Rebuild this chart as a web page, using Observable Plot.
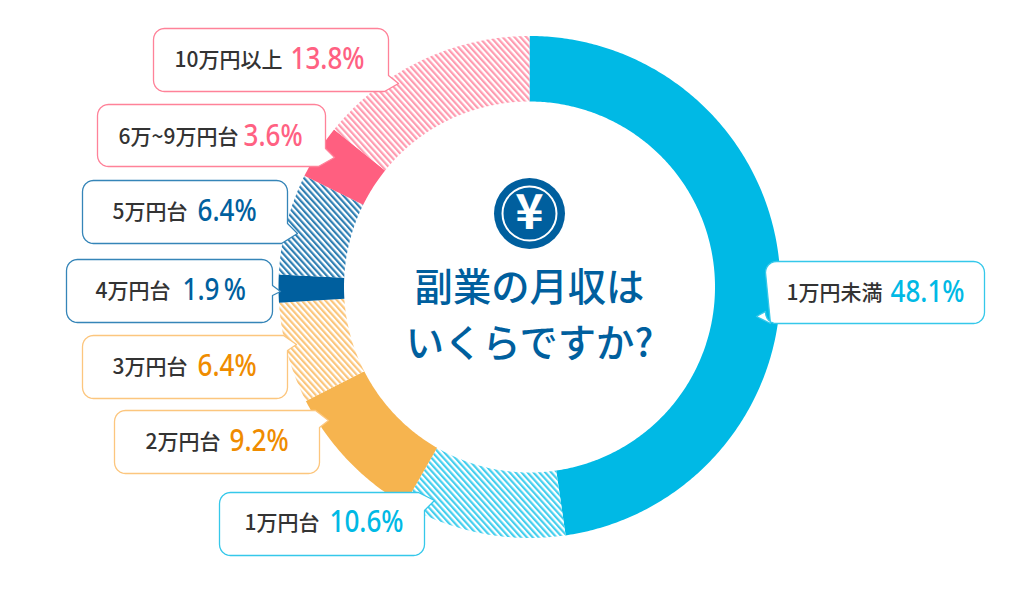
<!DOCTYPE html>
<html lang="ja">
<head>
<meta charset="utf-8">
<style>html,body{margin:0;padding:0;background:#fff}svg{display:block}</style>
<script src="https://cdn.jsdelivr.net/npm/d3@7"></script>
<script src="https://cdn.jsdelivr.net/npm/@observablehq/plot@0.6"></script>
</head>
<body>
<div id="chart"></div>
<script>
// Data (clockwise from 12 o'clock)
const categories = ["1万円未満","1万円台","2万円台","3万円台","4万円台","5万円台","6万~9万円台","10万円以上"];
const valueLabels = ["48.1%","10.6%","9.2%","6.4%","1.9\u2009%","6.4%","3.6%","13.8%"];
// Slice sizes as drawn in the picture (percent of the ring)
const drawnShares = [47.7,10.6,9.2,6.5,1.8,6.5,3.5,14.2];
const titleLines = ["副業の月収は","いくらですか?"];

// Styling
const sliceFills = ["#00b9e5","url(#hCyan)","#f6b44f","url(#hOrange)","#005f9e","url(#hBlue)","#ff5f80","url(#hPink)"];
const hatchDefs = [["hCyan","#45cfee"],["hOrange","#fbc67c"],["hBlue","#2f7fb3"],["hPink","#ff9bb0"]];
const borderColors = ["#35c8ea","#35c8ea","#fcc67e","#fcc67e","#3585b8","#3585b8","#ff8299","#ff8299"];
const valueColors = ["#00b9e5","#00b9e5","#ef8c00","#ef8c00","#00609e","#00609e","#ff6182","#ff6182"];

// Layout in chart units
const cx = 529, cy = 286.5, rOuter = 251, rInner = 185.5;
const boxes = [[765,261,984,323],[219,492,424,555],[114,410,319,473],[82,335,287,398],[66,259,272,322],[82,180,287,243],[97,104,325,166],[153,28,388,91]];
// callout tail: side it leaves from, tail points in outline order
const tails = [
  ["left",[[765,311],[756,316],[770,323]]],
  ["tr",[[418,492],[434,500],[424,510]]],
  ["tr",[[315,410],[328,420],[319,427]]],
  ["tr",[[283,335],[296,344],[287,350]]],
  ["right",[[272,285],[280,291],[272,295]]],
  ["br",[[287,223],[297,233],[281,243]]],
  ["br",[[325,148],[334,157],[318,166]]],
  ["br",[[388,75],[398,83],[384,91]]]
];
const labelX = [786,244,145,112,95,112,118,174];
const valueX = [890,329,229,197,182,197,243,290];
const textY = [293,523,442,367,291,212,137,60];

// Slices as polygons in chart units
let acc = 0;
const total = d3.sum(drawnShares);
const slices = drawnShares.map((v) => {
  const a0 = acc/total*2*Math.PI; acc += v; const a1 = acc/total*2*Math.PI;
  const n = Math.max(2, Math.ceil((a1-a0)/0.01));
  const pts = [];
  for (let k=0;k<=n;k++){const a=a0+(a1-a0)*k/n; pts.push({x:cx+rOuter*Math.sin(a),y:cy-rOuter*Math.cos(a)});}
  for (let k=n;k>=0;k--){const a=a0+(a1-a0)*k/n; pts.push({x:cx+rInner*Math.sin(a),y:cy-rInner*Math.cos(a)});}
  pts.push(pts[0]);
  return pts;
});

// Callout outline: rounded rectangle with a tail
function outline([x0,y0,x1,y1],[side,tail]){
  const r=11, pts=[];
  const corner=(ox,oy,start)=>{for(let k=0;k<=6;k++){const a=start+k/6*Math.PI/2;pts.push({x:ox+r*Math.cos(a),y:oy+r*Math.sin(a)});}};
  const add=()=>tail.forEach(([x,y])=>pts.push({x,y}));
  corner(x0+r,y0+r,Math.PI);
  if(side==="tr") add(); else corner(x1-r,y0+r,-Math.PI/2);
  if(side==="right") add();
  if(side==="br") add(); else corner(x1-r,y1-r,0);
  corner(x0+r,y1-r,Math.PI/2);
  if(side==="left") add();
  pts.push(pts[0]);
  return pts;
}

const font = "'Noto Sans CJK JP','Noto Sans',sans-serif";
const idx = d3.range(categories.length);

const chart = Plot.plot({
  width:1024,height:613,margin:0,
  x:{domain:[0,1024],range:[0,1024],axis:null},
  y:{domain:[0,613],range:[0,613],axis:null},
  marks:[
    () => {
      const defs = d3.create("svg:defs");
      hatchDefs.forEach(([id,c])=>{
        const p = defs.append("pattern").attr("id",id).attr("patternUnits","userSpaceOnUse")
          .attr("width",4.4).attr("height",4.4).attr("patternTransform","rotate(-42)");
        p.append("rect").attr("width",4.4).attr("height",4.4).attr("fill","#fff");
        p.append("rect").attr("width",2.2).attr("height",4.4).attr("fill",c);
      });
      return defs.node();
    },
    ...slices.map((pts,i)=>Plot.line(pts,{x:"x",y:"y",fill:sliceFills[i],stroke:"none"})),
    ...idx.map(i=>Plot.line(outline(boxes[i],tails[i]),{x:"x",y:"y",fill:"#fff",stroke:borderColors[i],strokeWidth:1.3,strokeLinejoin:"round"})),
    Plot.text(idx,{x:i=>labelX[i],y:i=>textY[i],text:i=>categories[i],textAnchor:"start",lineAnchor:"middle",fontFamily:font,fontSize:21,fontWeight:500,fill:"#333"}),
    Plot.text(idx,{className:"narrow",x:i=>valueX[i],y:i=>textY[i]-1,text:i=>valueLabels[i],textAnchor:"start",lineAnchor:"middle",fontFamily:"'Noto Sans',sans-serif",fontSize:31,fontWeight:500,fill:i=>valueColors[i]}),
    Plot.dot([0],{x:()=>cx,y:()=>213,r:35.5,fill:"#005f9e",stroke:"none"}),
    Plot.dot([0],{x:()=>cx,y:()=>213,r:27,fill:"none",stroke:"#fff",strokeWidth:2}),
    Plot.text(["¥"],{x:()=>cx,y:()=>213,text:d=>d,lineAnchor:"middle",fontFamily:font,fontSize:48,fontWeight:700,fill:"#fff"}),
    Plot.text(titleLines,{x:()=>cx,y:(d,i)=>[288,344][i],text:d=>d,lineAnchor:"middle",fontFamily:font,fontSize:38.3,fontWeight:500,fill:"#005f9e"})
  ]
});
document.getElementById("chart").appendChild(chart);
// Numbers are set in a condensed cut in the reference: narrow the installed face to match
chart.querySelectorAll(".narrow text").forEach(t=>{
  t.setAttribute("lengthAdjust","spacingAndGlyphs");
  t.setAttribute("textLength",(t.getComputedTextLength()*0.84).toFixed(1));
});
</script>
</body>
</html>
